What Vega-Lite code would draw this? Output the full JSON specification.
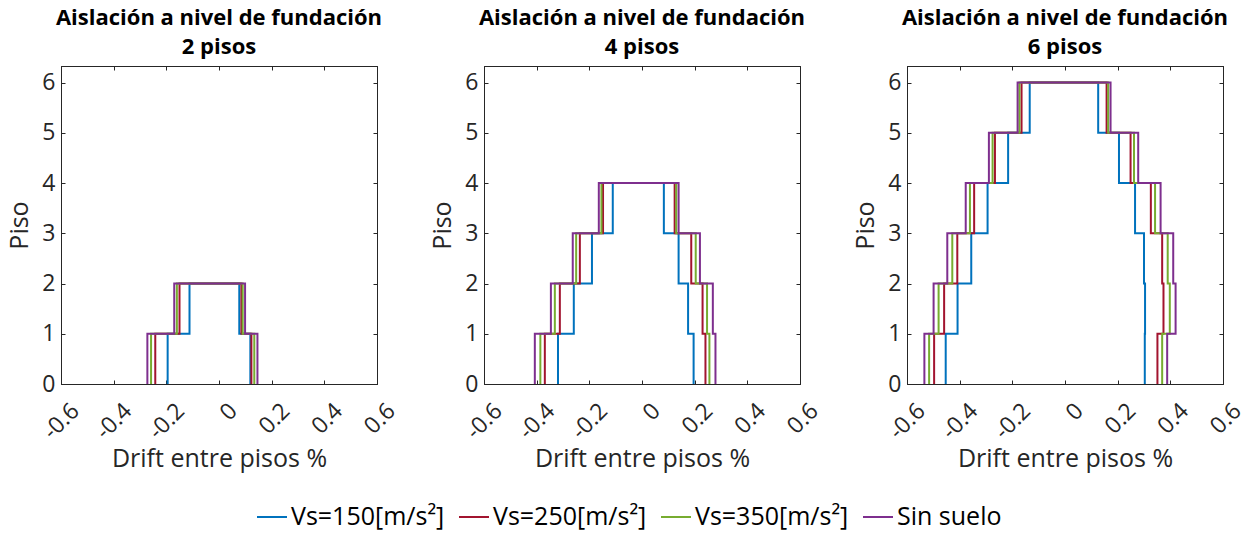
{
  "$schema": "https://vega.github.io/schema/vega-lite/v6.json",
  "padding": {"left": 7, "top": 6, "right": 5, "bottom": 5},
  "config": {
    "font": "Open Sans",
    "view": {"stroke": "#262626", "strokeWidth": 1},
    "axis": {
      "grid": false,
      "domainColor": "#262626",
      "tickColor": "#262626",
      "labelColor": "#262626",
      "titleColor": "#262626",
      "labelFontSize": 23,
      "titleFontSize": 25,
      "titleFontWeight": "normal",
      "tickSize": -4,
      "labelOverlap": false,
      "labelFlush": false
    },
    "title": {"fontSize": 22, "fontWeight": "bold", "color": "#000000", "lineHeight": 29, "offset": 7, "anchor": "middle"}
  },
  "data": {"values": [
    {"p":2,"s":"Vs=150[m/s²]","o":1,"x":-0.195,"y":0},{"p":2,"s":"Vs=150[m/s²]","o":2,"x":-0.195,"y":1},{"p":2,"s":"Vs=150[m/s²]","o":3,"x":-0.112,"y":1},{"p":2,"s":"Vs=150[m/s²]","o":4,"x":-0.112,"y":2},{"p":2,"s":"Vs=150[m/s²]","o":5,"x":0.077,"y":2},{"p":2,"s":"Vs=150[m/s²]","o":6,"x":0.077,"y":1},{"p":2,"s":"Vs=150[m/s²]","o":7,"x":0.119,"y":1},{"p":2,"s":"Vs=150[m/s²]","o":8,"x":0.119,"y":0},
    {"p":2,"s":"Vs=250[m/s²]","o":1,"x":-0.242,"y":0},{"p":2,"s":"Vs=250[m/s²]","o":2,"x":-0.242,"y":1},{"p":2,"s":"Vs=250[m/s²]","o":3,"x":-0.150,"y":1},{"p":2,"s":"Vs=250[m/s²]","o":4,"x":-0.150,"y":2},{"p":2,"s":"Vs=250[m/s²]","o":5,"x":0.085,"y":2},{"p":2,"s":"Vs=250[m/s²]","o":6,"x":0.085,"y":1},{"p":2,"s":"Vs=250[m/s²]","o":7,"x":0.123,"y":1},{"p":2,"s":"Vs=250[m/s²]","o":8,"x":0.123,"y":0},
    {"p":2,"s":"Vs=350[m/s²]","o":1,"x":-0.258,"y":0},{"p":2,"s":"Vs=350[m/s²]","o":2,"x":-0.258,"y":1},{"p":2,"s":"Vs=350[m/s²]","o":3,"x":-0.160,"y":1},{"p":2,"s":"Vs=350[m/s²]","o":4,"x":-0.160,"y":2},{"p":2,"s":"Vs=350[m/s²]","o":5,"x":0.090,"y":2},{"p":2,"s":"Vs=350[m/s²]","o":6,"x":0.090,"y":1},{"p":2,"s":"Vs=350[m/s²]","o":7,"x":0.134,"y":1},{"p":2,"s":"Vs=350[m/s²]","o":8,"x":0.134,"y":0},
    {"p":2,"s":"Sin suelo","o":1,"x":-0.272,"y":0},{"p":2,"s":"Sin suelo","o":2,"x":-0.272,"y":1},{"p":2,"s":"Sin suelo","o":3,"x":-0.170,"y":1},{"p":2,"s":"Sin suelo","o":4,"x":-0.170,"y":2},{"p":2,"s":"Sin suelo","o":5,"x":0.099,"y":2},{"p":2,"s":"Sin suelo","o":6,"x":0.099,"y":1},{"p":2,"s":"Sin suelo","o":7,"x":0.146,"y":1},{"p":2,"s":"Sin suelo","o":8,"x":0.146,"y":0},

    {"p":4,"s":"Vs=150[m/s²]","o":1,"x":-0.319,"y":0},{"p":4,"s":"Vs=150[m/s²]","o":2,"x":-0.319,"y":1},{"p":4,"s":"Vs=150[m/s²]","o":3,"x":-0.259,"y":1},{"p":4,"s":"Vs=150[m/s²]","o":4,"x":-0.259,"y":2},{"p":4,"s":"Vs=150[m/s²]","o":5,"x":-0.190,"y":2},{"p":4,"s":"Vs=150[m/s²]","o":6,"x":-0.190,"y":3},{"p":4,"s":"Vs=150[m/s²]","o":7,"x":-0.111,"y":3},{"p":4,"s":"Vs=150[m/s²]","o":8,"x":-0.111,"y":4},{"p":4,"s":"Vs=150[m/s²]","o":9,"x":0.083,"y":4},{"p":4,"s":"Vs=150[m/s²]","o":10,"x":0.083,"y":3},{"p":4,"s":"Vs=150[m/s²]","o":11,"x":0.139,"y":3},{"p":4,"s":"Vs=150[m/s²]","o":12,"x":0.139,"y":2},{"p":4,"s":"Vs=150[m/s²]","o":13,"x":0.175,"y":2},{"p":4,"s":"Vs=150[m/s²]","o":14,"x":0.175,"y":1},{"p":4,"s":"Vs=150[m/s²]","o":15,"x":0.196,"y":1},{"p":4,"s":"Vs=150[m/s²]","o":16,"x":0.196,"y":0},
    {"p":4,"s":"Vs=250[m/s²]","o":1,"x":-0.369,"y":0},{"p":4,"s":"Vs=250[m/s²]","o":2,"x":-0.369,"y":1},{"p":4,"s":"Vs=250[m/s²]","o":3,"x":-0.312,"y":1},{"p":4,"s":"Vs=250[m/s²]","o":4,"x":-0.312,"y":2},{"p":4,"s":"Vs=250[m/s²]","o":5,"x":-0.236,"y":2},{"p":4,"s":"Vs=250[m/s²]","o":6,"x":-0.236,"y":3},{"p":4,"s":"Vs=250[m/s²]","o":7,"x":-0.148,"y":3},{"p":4,"s":"Vs=250[m/s²]","o":8,"x":-0.148,"y":4},{"p":4,"s":"Vs=250[m/s²]","o":9,"x":0.124,"y":4},{"p":4,"s":"Vs=250[m/s²]","o":10,"x":0.124,"y":3},{"p":4,"s":"Vs=250[m/s²]","o":11,"x":0.187,"y":3},{"p":4,"s":"Vs=250[m/s²]","o":12,"x":0.187,"y":2},{"p":4,"s":"Vs=250[m/s²]","o":13,"x":0.230,"y":2},{"p":4,"s":"Vs=250[m/s²]","o":14,"x":0.230,"y":1},{"p":4,"s":"Vs=250[m/s²]","o":15,"x":0.241,"y":1},{"p":4,"s":"Vs=250[m/s²]","o":16,"x":0.241,"y":0},
    {"p":4,"s":"Vs=350[m/s²]","o":1,"x":-0.386,"y":0},{"p":4,"s":"Vs=350[m/s²]","o":2,"x":-0.386,"y":1},{"p":4,"s":"Vs=350[m/s²]","o":3,"x":-0.331,"y":1},{"p":4,"s":"Vs=350[m/s²]","o":4,"x":-0.331,"y":2},{"p":4,"s":"Vs=350[m/s²]","o":5,"x":-0.250,"y":2},{"p":4,"s":"Vs=350[m/s²]","o":6,"x":-0.250,"y":3},{"p":4,"s":"Vs=350[m/s²]","o":7,"x":-0.154,"y":3},{"p":4,"s":"Vs=350[m/s²]","o":8,"x":-0.154,"y":4},{"p":4,"s":"Vs=350[m/s²]","o":9,"x":0.130,"y":4},{"p":4,"s":"Vs=350[m/s²]","o":10,"x":0.130,"y":3},{"p":4,"s":"Vs=350[m/s²]","o":11,"x":0.204,"y":3},{"p":4,"s":"Vs=350[m/s²]","o":12,"x":0.204,"y":2},{"p":4,"s":"Vs=350[m/s²]","o":13,"x":0.247,"y":2},{"p":4,"s":"Vs=350[m/s²]","o":14,"x":0.247,"y":1},{"p":4,"s":"Vs=350[m/s²]","o":15,"x":0.256,"y":1},{"p":4,"s":"Vs=350[m/s²]","o":16,"x":0.256,"y":0},
    {"p":4,"s":"Sin suelo","o":1,"x":-0.407,"y":0},{"p":4,"s":"Sin suelo","o":2,"x":-0.407,"y":1},{"p":4,"s":"Sin suelo","o":3,"x":-0.346,"y":1},{"p":4,"s":"Sin suelo","o":4,"x":-0.346,"y":2},{"p":4,"s":"Sin suelo","o":5,"x":-0.263,"y":2},{"p":4,"s":"Sin suelo","o":6,"x":-0.263,"y":3},{"p":4,"s":"Sin suelo","o":7,"x":-0.164,"y":3},{"p":4,"s":"Sin suelo","o":8,"x":-0.164,"y":4},{"p":4,"s":"Sin suelo","o":9,"x":0.139,"y":4},{"p":4,"s":"Sin suelo","o":10,"x":0.139,"y":3},{"p":4,"s":"Sin suelo","o":11,"x":0.220,"y":3},{"p":4,"s":"Sin suelo","o":12,"x":0.220,"y":2},{"p":4,"s":"Sin suelo","o":13,"x":0.269,"y":2},{"p":4,"s":"Sin suelo","o":14,"x":0.269,"y":1},{"p":4,"s":"Sin suelo","o":15,"x":0.279,"y":1},{"p":4,"s":"Sin suelo","o":16,"x":0.279,"y":0},

    {"p":6,"s":"Vs=150[m/s²]","o":1,"x":-0.453,"y":0},{"p":6,"s":"Vs=150[m/s²]","o":2,"x":-0.453,"y":1},{"p":6,"s":"Vs=150[m/s²]","o":3,"x":-0.408,"y":1},{"p":6,"s":"Vs=150[m/s²]","o":4,"x":-0.408,"y":2},{"p":6,"s":"Vs=150[m/s²]","o":5,"x":-0.356,"y":2},{"p":6,"s":"Vs=150[m/s²]","o":6,"x":-0.356,"y":3},{"p":6,"s":"Vs=150[m/s²]","o":7,"x":-0.294,"y":3},{"p":6,"s":"Vs=150[m/s²]","o":8,"x":-0.294,"y":4},{"p":6,"s":"Vs=150[m/s²]","o":9,"x":-0.216,"y":4},{"p":6,"s":"Vs=150[m/s²]","o":10,"x":-0.216,"y":5},{"p":6,"s":"Vs=150[m/s²]","o":11,"x":-0.134,"y":5},{"p":6,"s":"Vs=150[m/s²]","o":12,"x":-0.134,"y":6},{"p":6,"s":"Vs=150[m/s²]","o":13,"x":0.126,"y":6},{"p":6,"s":"Vs=150[m/s²]","o":14,"x":0.126,"y":5},{"p":6,"s":"Vs=150[m/s²]","o":15,"x":0.205,"y":5},{"p":6,"s":"Vs=150[m/s²]","o":16,"x":0.205,"y":4},{"p":6,"s":"Vs=150[m/s²]","o":17,"x":0.266,"y":4},{"p":6,"s":"Vs=150[m/s²]","o":18,"x":0.266,"y":3},{"p":6,"s":"Vs=150[m/s²]","o":19,"x":0.300,"y":3},{"p":6,"s":"Vs=150[m/s²]","o":20,"x":0.300,"y":2},{"p":6,"s":"Vs=150[m/s²]","o":21,"x":0.304,"y":2},{"p":6,"s":"Vs=150[m/s²]","o":22,"x":0.304,"y":1},{"p":6,"s":"Vs=150[m/s²]","o":23,"x":0.303,"y":1},{"p":6,"s":"Vs=150[m/s²]","o":24,"x":0.303,"y":0},
    {"p":6,"s":"Vs=250[m/s²]","o":1,"x":-0.497,"y":0},{"p":6,"s":"Vs=250[m/s²]","o":2,"x":-0.497,"y":1},{"p":6,"s":"Vs=250[m/s²]","o":3,"x":-0.459,"y":1},{"p":6,"s":"Vs=250[m/s²]","o":4,"x":-0.459,"y":2},{"p":6,"s":"Vs=250[m/s²]","o":5,"x":-0.409,"y":2},{"p":6,"s":"Vs=250[m/s²]","o":6,"x":-0.409,"y":3},{"p":6,"s":"Vs=250[m/s²]","o":7,"x":-0.345,"y":3},{"p":6,"s":"Vs=250[m/s²]","o":8,"x":-0.345,"y":4},{"p":6,"s":"Vs=250[m/s²]","o":9,"x":-0.266,"y":4},{"p":6,"s":"Vs=250[m/s²]","o":10,"x":-0.266,"y":5},{"p":6,"s":"Vs=250[m/s²]","o":11,"x":-0.165,"y":5},{"p":6,"s":"Vs=250[m/s²]","o":12,"x":-0.165,"y":6},{"p":6,"s":"Vs=250[m/s²]","o":13,"x":0.158,"y":6},{"p":6,"s":"Vs=250[m/s²]","o":14,"x":0.158,"y":5},{"p":6,"s":"Vs=250[m/s²]","o":15,"x":0.249,"y":5},{"p":6,"s":"Vs=250[m/s²]","o":16,"x":0.249,"y":4},{"p":6,"s":"Vs=250[m/s²]","o":17,"x":0.326,"y":4},{"p":6,"s":"Vs=250[m/s²]","o":18,"x":0.326,"y":3},{"p":6,"s":"Vs=250[m/s²]","o":19,"x":0.369,"y":3},{"p":6,"s":"Vs=250[m/s²]","o":20,"x":0.369,"y":2},{"p":6,"s":"Vs=250[m/s²]","o":21,"x":0.374,"y":2},{"p":6,"s":"Vs=250[m/s²]","o":22,"x":0.374,"y":1},{"p":6,"s":"Vs=250[m/s²]","o":23,"x":0.351,"y":1},{"p":6,"s":"Vs=250[m/s²]","o":24,"x":0.351,"y":0},
    {"p":6,"s":"Vs=350[m/s²]","o":1,"x":-0.516,"y":0},{"p":6,"s":"Vs=350[m/s²]","o":2,"x":-0.516,"y":1},{"p":6,"s":"Vs=350[m/s²]","o":3,"x":-0.480,"y":1},{"p":6,"s":"Vs=350[m/s²]","o":4,"x":-0.480,"y":2},{"p":6,"s":"Vs=350[m/s²]","o":5,"x":-0.428,"y":2},{"p":6,"s":"Vs=350[m/s²]","o":6,"x":-0.428,"y":3},{"p":6,"s":"Vs=350[m/s²]","o":7,"x":-0.361,"y":3},{"p":6,"s":"Vs=350[m/s²]","o":8,"x":-0.361,"y":4},{"p":6,"s":"Vs=350[m/s²]","o":9,"x":-0.275,"y":4},{"p":6,"s":"Vs=350[m/s²]","o":10,"x":-0.275,"y":5},{"p":6,"s":"Vs=350[m/s²]","o":11,"x":-0.173,"y":5},{"p":6,"s":"Vs=350[m/s²]","o":12,"x":-0.173,"y":6},{"p":6,"s":"Vs=350[m/s²]","o":13,"x":0.164,"y":6},{"p":6,"s":"Vs=350[m/s²]","o":14,"x":0.164,"y":5},{"p":6,"s":"Vs=350[m/s²]","o":15,"x":0.262,"y":5},{"p":6,"s":"Vs=350[m/s²]","o":16,"x":0.262,"y":4},{"p":6,"s":"Vs=350[m/s²]","o":17,"x":0.342,"y":4},{"p":6,"s":"Vs=350[m/s²]","o":18,"x":0.342,"y":3},{"p":6,"s":"Vs=350[m/s²]","o":19,"x":0.390,"y":3},{"p":6,"s":"Vs=350[m/s²]","o":20,"x":0.390,"y":2},{"p":6,"s":"Vs=350[m/s²]","o":21,"x":0.398,"y":2},{"p":6,"s":"Vs=350[m/s²]","o":22,"x":0.398,"y":1},{"p":6,"s":"Vs=350[m/s²]","o":23,"x":0.369,"y":1},{"p":6,"s":"Vs=350[m/s²]","o":24,"x":0.369,"y":0},
    {"p":6,"s":"Sin suelo","o":1,"x":-0.534,"y":0},{"p":6,"s":"Sin suelo","o":2,"x":-0.534,"y":1},{"p":6,"s":"Sin suelo","o":3,"x":-0.499,"y":1},{"p":6,"s":"Sin suelo","o":4,"x":-0.499,"y":2},{"p":6,"s":"Sin suelo","o":5,"x":-0.447,"y":2},{"p":6,"s":"Sin suelo","o":6,"x":-0.447,"y":3},{"p":6,"s":"Sin suelo","o":7,"x":-0.377,"y":3},{"p":6,"s":"Sin suelo","o":8,"x":-0.377,"y":4},{"p":6,"s":"Sin suelo","o":9,"x":-0.289,"y":4},{"p":6,"s":"Sin suelo","o":10,"x":-0.289,"y":5},{"p":6,"s":"Sin suelo","o":11,"x":-0.180,"y":5},{"p":6,"s":"Sin suelo","o":12,"x":-0.180,"y":6},{"p":6,"s":"Sin suelo","o":13,"x":0.173,"y":6},{"p":6,"s":"Sin suelo","o":14,"x":0.173,"y":5},{"p":6,"s":"Sin suelo","o":15,"x":0.278,"y":5},{"p":6,"s":"Sin suelo","o":16,"x":0.278,"y":4},{"p":6,"s":"Sin suelo","o":17,"x":0.363,"y":4},{"p":6,"s":"Sin suelo","o":18,"x":0.363,"y":3},{"p":6,"s":"Sin suelo","o":19,"x":0.411,"y":3},{"p":6,"s":"Sin suelo","o":20,"x":0.411,"y":2},{"p":6,"s":"Sin suelo","o":21,"x":0.420,"y":2},{"p":6,"s":"Sin suelo","o":22,"x":0.420,"y":1},{"p":6,"s":"Sin suelo","o":23,"x":0.388,"y":1},{"p":6,"s":"Sin suelo","o":24,"x":0.388,"y":0}
  ]},
  "bounds": "flush",
  "spacing": 107,
  "hconcat": [
    {
      "width": 316, "height": 318,
      "title": {"text": ["Aislación a nivel de fundación", "2 pisos"]},
      "transform": [{"filter": "datum.p == 2"}],
      "layer": [
        {
          "mark": {"type": "line", "strokeWidth": 2, "clip": true},
          "encoding": {
            "x": {"field": "x", "type": "quantitative", "scale": {"domain": [-0.6, 0.6], "nice": false, "zero": false},
                  "axis": {"orient": "bottom", "values": [-0.6, -0.4, -0.2, 0, 0.2, 0.4, 0.6], "labelExpr": "'' + datum.value", "labelAngle": -45, "labelAlign": "right", "labelBaseline": "middle", "labelPadding": 27, "labelOffset": 14, "title": "Drift entre pisos %", "titlePadding": 3}},
            "y": {"field": "y", "type": "quantitative", "scale": {"domain": [0, 6.33], "nice": false},
                  "axis": {"orient": "left", "values": [0, 1, 2, 3, 4, 5, 6], "labelPadding": 10, "title": "Piso", "titlePadding": 9}},
            "color": {"field": "s", "type": "nominal", "sort": null,
                      "scale": {"domain": ["Vs=150[m/s²]", "Vs=250[m/s²]", "Vs=350[m/s²]", "Sin suelo"], "range": ["#0072BD", "#A2142F", "#77AC30", "#7E2F8E"]},
                      "legend": {"orient": "none", "legendX": 195, "legendY": 435, "direction": "horizontal", "title": null, "symbolType": "stroke", "symbolSize": 900, "symbolStrokeWidth": 2, "labelFontSize": 25, "labelLimit": 400, "labelColor": "#000000", "labelOffset": 3, "columnPadding": 10}},
            "order": {"field": "o", "type": "quantitative"}
          }
        },
        {
          "mark": {"type": "line", "strokeOpacity": 0},
          "encoding": {
            "x": {"field": "x", "type": "quantitative", "axis": {"orient": "top", "values": [-0.6, -0.4, -0.2, 0, 0.2, 0.4, 0.6], "labels": false, "title": null}},
            "y": {"field": "y", "type": "quantitative", "axis": {"orient": "right", "values": [0, 1, 2, 3, 4, 5, 6], "labels": false, "title": null}},
            "detail": {"field": "s"},
            "order": {"field": "o", "type": "quantitative"}
          }
        }
      ],
      "resolve": {"axis": {"x": "independent", "y": "independent"}}
    },
    {
      "width": 316, "height": 318,
      "title": {"text": ["Aislación a nivel de fundación", "4 pisos"]},
      "transform": [{"filter": "datum.p == 4"}],
      "layer": [
        {
          "mark": {"type": "line", "strokeWidth": 2, "clip": true},
          "encoding": {
            "x": {"field": "x", "type": "quantitative", "scale": {"domain": [-0.6, 0.6], "nice": false, "zero": false},
                  "axis": {"orient": "bottom", "values": [-0.6, -0.4, -0.2, 0, 0.2, 0.4, 0.6], "labelExpr": "'' + datum.value", "labelAngle": -45, "labelAlign": "right", "labelBaseline": "middle", "labelPadding": 27, "labelOffset": 14, "title": "Drift entre pisos %", "titlePadding": 3}},
            "y": {"field": "y", "type": "quantitative", "scale": {"domain": [0, 6.33], "nice": false},
                  "axis": {"orient": "left", "values": [0, 1, 2, 3, 4, 5, 6], "labelPadding": 10, "title": "Piso", "titlePadding": 9}},
            "color": {"field": "s", "type": "nominal", "sort": null,
                      "scale": {"domain": ["Vs=150[m/s²]", "Vs=250[m/s²]", "Vs=350[m/s²]", "Sin suelo"], "range": ["#0072BD", "#A2142F", "#77AC30", "#7E2F8E"]}},
            "order": {"field": "o", "type": "quantitative"}
          }
        },
        {
          "mark": {"type": "line", "strokeOpacity": 0},
          "encoding": {
            "x": {"field": "x", "type": "quantitative", "axis": {"orient": "top", "values": [-0.6, -0.4, -0.2, 0, 0.2, 0.4, 0.6], "labels": false, "title": null}},
            "y": {"field": "y", "type": "quantitative", "axis": {"orient": "right", "values": [0, 1, 2, 3, 4, 5, 6], "labels": false, "title": null}},
            "detail": {"field": "s"},
            "order": {"field": "o", "type": "quantitative"}
          }
        }
      ],
      "resolve": {"axis": {"x": "independent", "y": "independent"}}
    },
    {
      "width": 316, "height": 318,
      "title": {"text": ["Aislación a nivel de fundación", "6 pisos"]},
      "transform": [{"filter": "datum.p == 6"}],
      "layer": [
        {
          "mark": {"type": "line", "strokeWidth": 2, "clip": true},
          "encoding": {
            "x": {"field": "x", "type": "quantitative", "scale": {"domain": [-0.6, 0.6], "nice": false, "zero": false},
                  "axis": {"orient": "bottom", "values": [-0.6, -0.4, -0.2, 0, 0.2, 0.4, 0.6], "labelExpr": "'' + datum.value", "labelAngle": -45, "labelAlign": "right", "labelBaseline": "middle", "labelPadding": 27, "labelOffset": 14, "title": "Drift entre pisos %", "titlePadding": 3}},
            "y": {"field": "y", "type": "quantitative", "scale": {"domain": [0, 6.33], "nice": false},
                  "axis": {"orient": "left", "values": [0, 1, 2, 3, 4, 5, 6], "labelPadding": 10, "title": "Piso", "titlePadding": 9}},
            "color": {"field": "s", "type": "nominal", "sort": null,
                      "scale": {"domain": ["Vs=150[m/s²]", "Vs=250[m/s²]", "Vs=350[m/s²]", "Sin suelo"], "range": ["#0072BD", "#A2142F", "#77AC30", "#7E2F8E"]}},
            "order": {"field": "o", "type": "quantitative"}
          }
        },
        {
          "mark": {"type": "line", "strokeOpacity": 0},
          "encoding": {
            "x": {"field": "x", "type": "quantitative", "axis": {"orient": "top", "values": [-0.6, -0.4, -0.2, 0, 0.2, 0.4, 0.6], "labels": false, "title": null}},
            "y": {"field": "y", "type": "quantitative", "axis": {"orient": "right", "values": [0, 1, 2, 3, 4, 5, 6], "labels": false, "title": null}},
            "detail": {"field": "s"},
            "order": {"field": "o", "type": "quantitative"}
          }
        }
      ],
      "resolve": {"axis": {"x": "independent", "y": "independent"}}
    }
  ]
}
